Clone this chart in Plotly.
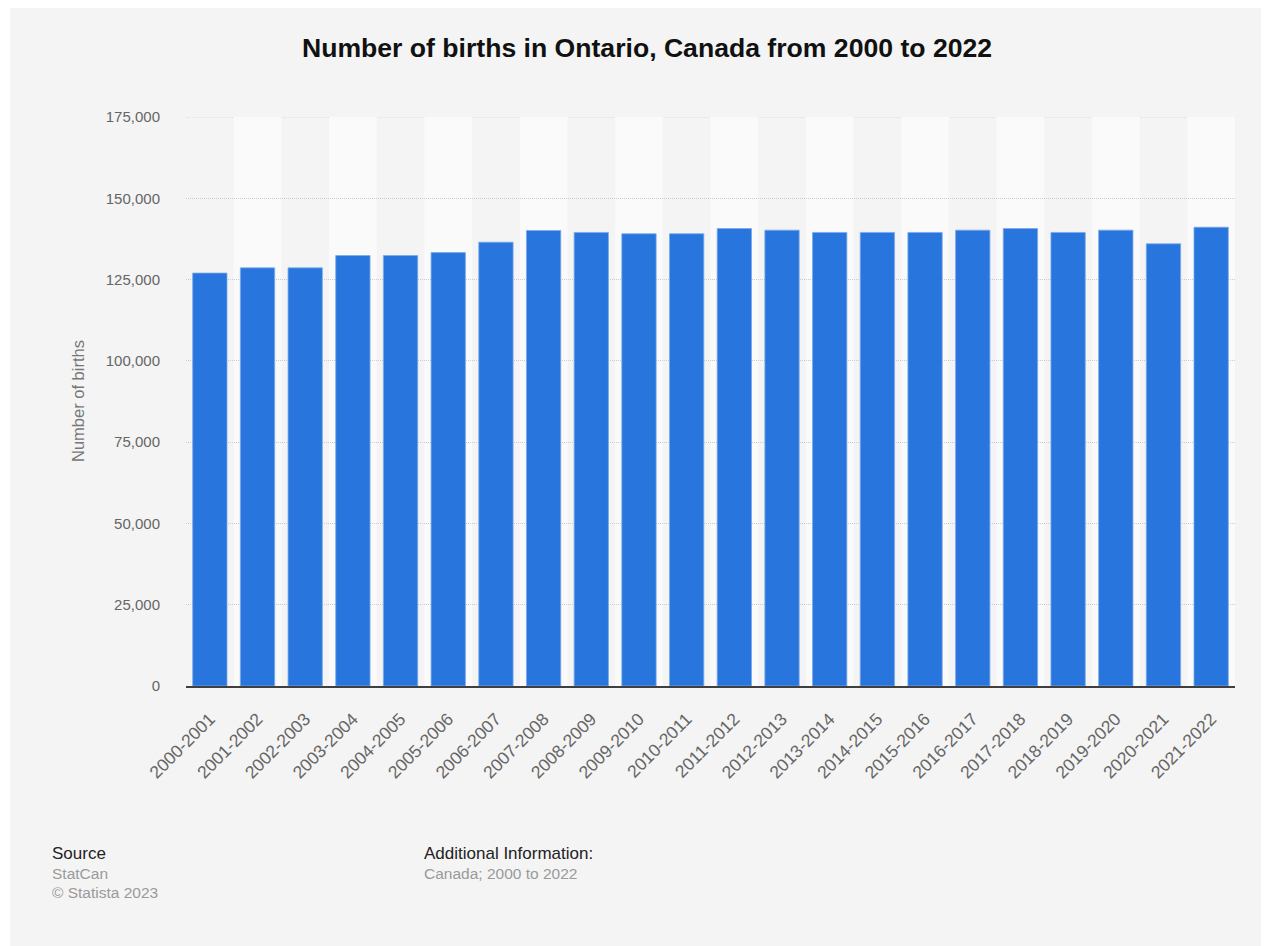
import plotly.graph_objects as go

categories = ["2000-2001", "2001-2002", "2002-2003", "2003-2004", "2004-2005", "2005-2006",
              "2006-2007", "2007-2008", "2008-2009", "2009-2010", "2010-2011", "2011-2012",
              "2012-2013", "2013-2014", "2014-2015", "2015-2016", "2016-2017", "2017-2018",
              "2018-2019", "2019-2020", "2020-2021", "2021-2022"]
births = [127000, 128600, 128600, 132400, 132400, 133300, 136500, 140100, 139500, 139100,
          139100, 140700, 140200, 139500, 139500, 139500, 140200, 140700, 139500, 140200,
          136000, 141100]
y_ticks = [0, 25000, 50000, 75000, 100000, 125000, 150000, 175000]
y_tick_labels = ["0", "25,000", "50,000", "75,000", "100,000", "125,000", "150,000", "175,000"]

# page is rendered with an 8px body margin
OX, OY = 8, 8
W, H = 1269 - OX, 946 - OY
PL, PR, PT, PB = 186, 1235, 117, 686          # plot area in page pixels
ML, MT = PL - OX, PT - OY
MR, MB = 1269 - PR, 946 - PB
PW, PH = PR - PL, PB - PT


def px(x):
    return (x - PL) / PW


def py(y):
    return (PB - y) / PH


font = "Liberation Sans, Arial, sans-serif"
grid_col = "#cccccc"

fig = go.Figure()
fig.add_trace(go.Bar(
    x=list(range(len(categories))), y=births,
    marker=dict(color="#2876dd", line=dict(color="#7aa9ea", width=0.8)),
    width=0.72, hoverinfo="skip"))

shapes = [dict(type="rect", xref="paper", yref="paper", x0=px(10), x1=px(1290),
               y0=py(0), y1=py(970), fillcolor="#f4f4f4", line=dict(width=0), layer="below")]
for i in range(len(categories)):
    if i % 2 == 1:
        shapes.append(dict(type="rect", xref="x", yref="y", x0=i - 0.5, x1=i + 0.5,
                           y0=0, y1=y_ticks[-1], fillcolor="#fafafa",
                           line=dict(width=0), layer="below"))
shapes.append(dict(type="line", xref="paper", yref="y", x0=0, x1=1,
                   y0=y_ticks[-1], y1=y_ticks[-1],
                   line=dict(color=grid_col, width=1, dash="1px,1px"), layer="below"))

annotations = [
    dict(text="Source", x=px(50), y=py(853), xanchor="left", yanchor="middle",
         font=dict(size=17, color="#222222", family=font)),
    dict(text="StatCan", x=px(50), y=py(873), xanchor="left", yanchor="middle",
         font=dict(size=15.5, color="#9a9a9a", family=font)),
    dict(text="© Statista 2023", x=px(50), y=py(892), xanchor="left", yanchor="middle",
         font=dict(size=15.5, color="#9a9a9a", family=font)),
    dict(text="Additional Information:", x=px(422), y=py(853), xanchor="left", yanchor="middle",
         font=dict(size=17, color="#222222", family=font)),
    dict(text="Canada; 2000 to 2022", x=px(422), y=py(873), xanchor="left", yanchor="middle",
         font=dict(size=15.5, color="#9a9a9a", family=font)),
    dict(text="Number of births", x=px(78), y=py(401), xanchor="center", yanchor="middle",
         textangle=-90, font=dict(size=16.5, color="#777777", family=font)),
]
for a in annotations:
    a.update(xref="paper", yref="paper", showarrow=False)

fig.update_layout(
    width=W, height=H,
    margin=dict(l=ML, r=MR, t=MT, b=MB, pad=0),
    paper_bgcolor="#ffffff",
    plot_bgcolor="rgba(0,0,0,0)",
    showlegend=False,
    bargap=0.28,
    title=dict(text="<b>Number of births in Ontario, Canada from 2000 to 2022</b>",
               x=(647 - OX) / W, xref="container", xanchor="center",
               y=1 - (48 - OY) / H, yref="container", yanchor="middle",
               font=dict(size=26.6, color="#111111", family=font)),
    shapes=shapes,
    annotations=annotations,
    xaxis=dict(
        range=[-0.5, len(categories) - 0.5],
        tickmode="array", tickvals=list(range(len(categories))), ticktext=categories,
        tickangle=-45, tickfont=dict(size=17.5, color="#666666", family=font),
        showgrid=False, zeroline=False,
        showline=True, linecolor="#3f3f3f", linewidth=2,
        ticks="outside", ticklen=14, tickcolor="rgba(0,0,0,0)",
        fixedrange=True,
    ),
    yaxis=dict(
        range=[0, y_ticks[-1]],
        tickmode="array", tickvals=y_ticks, ticktext=y_tick_labels,
        tickfont=dict(size=15, color="#666666", family=font),
        showgrid=True, gridcolor=grid_col, gridwidth=1, griddash="1px,1px",
        zeroline=False, showline=False,
        ticks="outside", ticklen=22, tickcolor="rgba(0,0,0,0)",
        fixedrange=True,
    ),
)

fig.write_html("out.html")
